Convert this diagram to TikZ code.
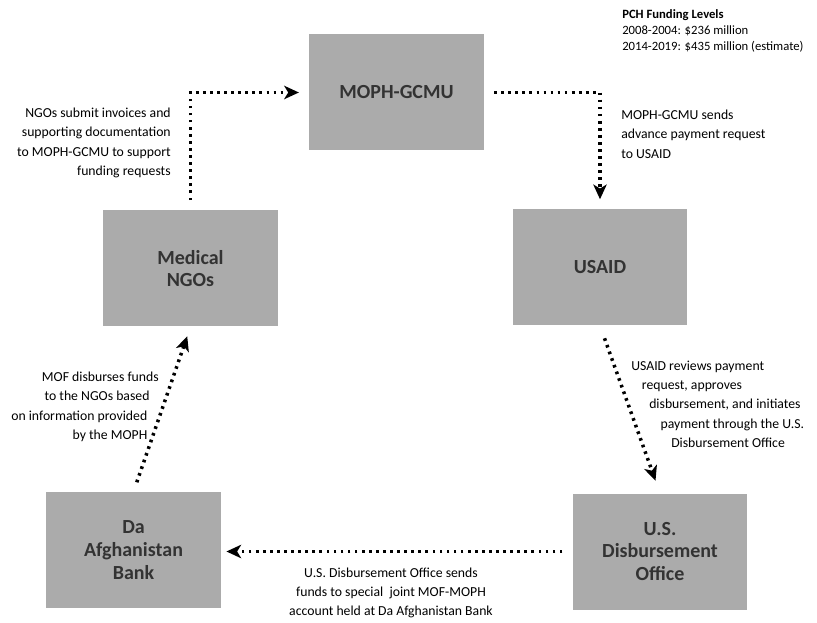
\documentclass[tikz,border=0pt]{standalone}
\usepackage{fontspec}
\setmainfont{Carlito}
\usetikzlibrary{arrows.meta}
\usetikzlibrary{positioning}

\begin{document}
\begin{tikzpicture}[x=0.75pt,y=0.75pt,yscale=-1,xscale=1,
    station/.style={rectangle,fill=black!33,text=black!80,font=\fontsize{15}{17}\selectfont\bfseries,align=center,minimum width=131pt,minimum height=87pt,inner sep=0pt},
    note/.style={text=black,font=\fontsize{10.3}{14.5}\selectfont,inner sep=0.75pt},
    flow/.style={line width=2.6pt,dash pattern=on 2pt off 3.3pt,-{Stealth[length=11pt,width=10pt,inset=3pt]},shorten <=7.5pt,shorten >=7.5pt}]
    \useasboundingbox (0,0) rectangle (817,623);

    \node (moph) at (396.5,92.5) [station] {MOPH-GCMU};
    \node (ngo) at (190.5,268.5) [station] {Medical\\NGOs};
    \node (usaid) at (600,267.5) [station] {USAID};
    \node (bank) at (133.5,550) [station] {Da\\Afghanistan\\Bank};
    \node (disb) at (660,551.5) [station] {U.S.\\Disbursement\\Office};

    \draw [flow] (ngo.north) |- (moph.west);
    \draw [flow] (moph.east) -| (usaid.north);
    \draw [flow,shorten <=10pt,shorten >=10pt] (usaid.south) -- (disb.north);
    \draw [flow,shorten >=4pt] (disb.west) -- (disb.west -| bank.east);
    \draw [flow] (bank.north) -- (ngo.south);

    \node (ngonote) at (172,143) [note,anchor=east,align=right] {NGOs submit invoices and\\supporting documentation\\to MOPH-GCMU to support\\funding requests};
    \node (mophnote) at (620,134) [note,anchor=west,align=left] {MOPH-GCMU sends\\advance payment request\\to USAID};
    \node (levels) at (621,31) [note,anchor=west,align=left,font=\fontsize{9.5}{12.2}\selectfont] {\textbf{PCH Funding Levels}\\2008-2004: \$236 million\\2014-2019: \$435 million (estimate)};
    \node (usaidnote) at (630,404) [note,anchor=west,align=left] {USAID reviews payment\\\hspace*{8pt}request, approves\\\hspace*{13.5pt}disbursement, and initiates\\\hspace*{22pt}payment through the U.S.\\\hspace*{30pt}Disbursement Office};
    \node (disbnote) at (391,593) [note,align=center] {U.S. Disbursement Office sends\\funds to special\ \ joint MOF-MOPH\\account held at Da Afghanistan Bank};
    \node (mofnote) at (10,407) [note,anchor=west,align=left] {\hspace*{23pt}MOF disburses funds\\\hspace*{25pt}to the NGOs based\\on information provided\\\hspace*{46pt}by the MOPH};
\end{tikzpicture}
\end{document}
